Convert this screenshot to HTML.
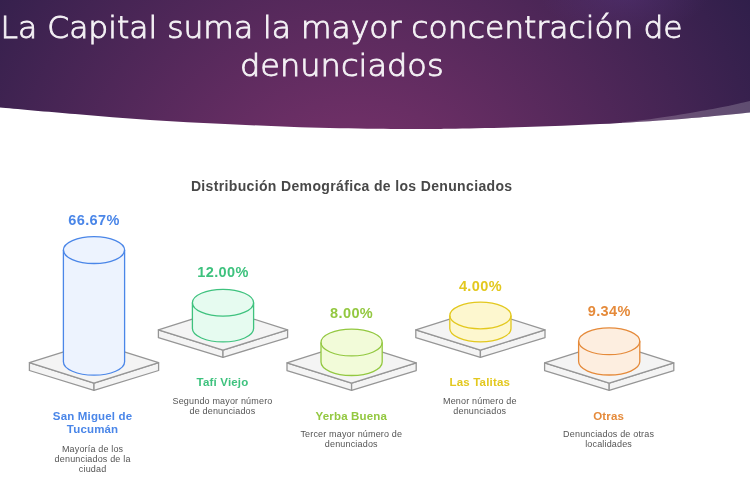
<!DOCTYPE html>
<html lang="es"><head><meta charset="utf-8"><title>La Capital suma la mayor concentración de denunciados</title>
<style>html,body{margin:0;padding:0;background:#fff;}body{width:750px;height:500px;overflow:hidden;}svg{display:block;}</style></head>
<body>
<svg width="750" height="500" viewBox="0 0 750 500">
<defs><radialGradient id="bg" gradientUnits="userSpaceOnUse" cx="0" cy="0" r="1" gradientTransform="translate(354 224) scale(476 456)"><stop offset="0" stop-color="#7f346e"/><stop offset="1" stop-color="#2d1e49"/></radialGradient><radialGradient id="glow"><stop offset="0" stop-color="#633f92" stop-opacity="0.32"/><stop offset="1" stop-color="#633f92" stop-opacity="0"/></radialGradient></defs>
<clipPath id="hc"><path d="M0.00,107.40 C12.50,108.50 50.00,111.90 75.00,114.00 C100.00,116.10 125.00,118.33 150.00,120.00 C175.00,121.67 200.00,122.80 225.00,124.00 C250.00,125.20 275.00,126.40 300.00,127.20 C325.00,128.00 355.00,128.50 375.00,128.80 C395.00,129.10 407.50,129.00 420.00,129.00 C432.50,129.00 432.50,129.13 450.00,128.80 C467.50,128.47 500.00,127.78 525.00,127.00 C550.00,126.22 575.00,125.37 600.00,124.10 C625.00,122.83 656.33,120.70 675.00,119.40 C693.67,118.10 699.50,117.43 712.00,116.30 C724.50,115.17 743.67,113.22 750.00,112.60 L750,0 L0,0 Z"/></clipPath>
<rect width="750" height="500" fill="#fff"/>
<path d="M0.00,107.40 C12.50,108.50 50.00,111.90 75.00,114.00 C100.00,116.10 125.00,118.33 150.00,120.00 C175.00,121.67 200.00,122.80 225.00,124.00 C250.00,125.20 275.00,126.40 300.00,127.20 C325.00,128.00 355.00,128.50 375.00,128.80 C395.00,129.10 407.50,129.00 420.00,129.00 C432.50,129.00 432.50,129.13 450.00,128.80 C467.50,128.47 500.00,127.78 525.00,127.00 C550.00,126.22 575.00,125.37 600.00,124.10 C625.00,122.83 656.33,120.70 675.00,119.40 C693.67,118.10 699.50,117.43 712.00,116.30 C724.50,115.17 743.67,113.22 750.00,112.60 L750,0 L0,0 Z" fill="url(#bg)"/>
<ellipse cx="624" cy="-8" rx="85" ry="44" fill="url(#glow)"/>
<path d="M622.00,122.30 C626.67,121.78 638.67,120.75 650.00,119.20 C661.33,117.65 678.33,114.93 690.00,113.00 C701.67,111.07 710.00,109.60 720.00,107.60 C730.00,105.60 745.00,102.10 750.00,101.00 L750,112.6 L750,125 L622,125 Z" fill="#fff" fill-opacity="0.2" clip-path="url(#hc)"/>
<g font-family="'DejaVu Sans Light','DejaVu Sans','Liberation Sans',sans-serif" font-weight="200" font-size="29.8" fill="#f4f1f5" text-anchor="middle" stroke="#f4f1f5" stroke-width="0.85">
<text id="t1" transform="translate(341.6 38.4) scale(1.053 1)" x="0" y="0">La Capital suma la mayor concentración de</text>
<text id="t2" transform="translate(341.8 76) scale(1.075 1)" x="0" y="0">denunciados</text>
</g>
<text id="ct" x="351.7" y="191.3" font-family="'Liberation Sans',sans-serif" font-weight="700" font-size="14" letter-spacing="0.35" fill="#484848" text-anchor="middle">Distribución Demográfica de los Denunciados</text>
<path d="M29.4,362.7 L94.0,383.1 L94.0,390.3 L29.4,370.5 Z" fill="#f4f4f4" stroke="#969696" stroke-width="1.3" stroke-linejoin="round"/><path d="M158.6,362.7 L94.0,383.1 L94.0,390.3 L158.6,370.5 Z" fill="#f4f4f4" stroke="#969696" stroke-width="1.3" stroke-linejoin="round"/><path d="M29.4,362.7 L94.0,342.3 L158.6,362.7 L94.0,383.1 Z" fill="#f4f4f4" stroke="#969696" stroke-width="1.3" stroke-linejoin="round"/>
<path d="M63.4,250.1 L63.4,361.8 A30.6,13.4 0 0 0 124.6,361.8 L124.6,250.1 A30.6,13.4 0 0 0 63.4,250.1 Z" fill="#edf3fe" stroke="#4a86e8" stroke-width="1.3"/><path d="M63.4,250.1 A30.6,13.4 0 0 0 124.6,250.1" fill="none" stroke="#4a86e8" stroke-width="1.3"/>
<text id="p0" x="94.0" y="225.1" font-family="'Liberation Sans',sans-serif" font-weight="700" font-size="14.5" letter-spacing="0.38" fill="#4a86e8" text-anchor="middle">66.67%</text>
<text id="n0_0" x="92.6" y="420.0" font-family="'Liberation Sans',sans-serif" font-weight="700" font-size="11.5" letter-spacing="0.17" fill="#4a86e8" text-anchor="middle">San Miguel de</text>
<text id="n0_1" x="92.6" y="433.0" font-family="'Liberation Sans',sans-serif" font-weight="700" font-size="11.5" letter-spacing="0.17" fill="#4a86e8" text-anchor="middle">Tucumán</text>
<text id="d0_0" x="92.6" y="452.0" font-family="'Liberation Sans',sans-serif" font-size="9" letter-spacing="0.17" fill="#555" text-anchor="middle">Mayoría de los</text>
<text id="d0_1" x="92.6" y="461.9" font-family="'Liberation Sans',sans-serif" font-size="9" letter-spacing="0.17" fill="#555" text-anchor="middle">denunciados de la</text>
<text id="d0_2" x="92.6" y="471.7" font-family="'Liberation Sans',sans-serif" font-size="9" letter-spacing="0.17" fill="#555" text-anchor="middle">ciudad</text>
<path d="M158.4,329.8 L223.0,350.2 L223.0,357.4 L158.4,337.6 Z" fill="#f4f4f4" stroke="#969696" stroke-width="1.3" stroke-linejoin="round"/><path d="M287.6,329.8 L223.0,350.2 L223.0,357.4 L287.6,337.6 Z" fill="#f4f4f4" stroke="#969696" stroke-width="1.3" stroke-linejoin="round"/><path d="M158.4,329.8 L223.0,309.4 L287.6,329.8 L223.0,350.2 Z" fill="#f4f4f4" stroke="#969696" stroke-width="1.3" stroke-linejoin="round"/>
<path d="M192.4,302.7 L192.4,328.5 A30.6,13.4 0 0 0 253.6,328.5 L253.6,302.7 A30.6,13.4 0 0 0 192.4,302.7 Z" fill="#e6fbf0" stroke="#3ec27e" stroke-width="1.3"/><path d="M192.4,302.7 A30.6,13.4 0 0 0 253.6,302.7" fill="none" stroke="#3ec27e" stroke-width="1.3"/>
<text id="p1" x="223.0" y="277.4" font-family="'Liberation Sans',sans-serif" font-weight="700" font-size="14.5" letter-spacing="0.38" fill="#3ec27e" text-anchor="middle">12.00%</text>
<text id="n1_0" x="222.5" y="386.3" font-family="'Liberation Sans',sans-serif" font-weight="700" font-size="11.5" letter-spacing="0.17" fill="#3ec27e" text-anchor="middle">Tafí Viejo</text>
<text id="d1_0" x="222.5" y="403.6" font-family="'Liberation Sans',sans-serif" font-size="9" letter-spacing="0.17" fill="#555" text-anchor="middle">Segundo mayor número</text>
<text id="d1_1" x="222.5" y="413.5" font-family="'Liberation Sans',sans-serif" font-size="9" letter-spacing="0.17" fill="#555" text-anchor="middle">de denunciados</text>
<path d="M287.0,362.8 L351.6,383.2 L351.6,390.4 L287.0,370.6 Z" fill="#f4f4f4" stroke="#969696" stroke-width="1.3" stroke-linejoin="round"/><path d="M416.2,362.8 L351.6,383.2 L351.6,390.4 L416.2,370.6 Z" fill="#f4f4f4" stroke="#969696" stroke-width="1.3" stroke-linejoin="round"/><path d="M287.0,362.8 L351.6,342.4 L416.2,362.8 L351.6,383.2 Z" fill="#f4f4f4" stroke="#969696" stroke-width="1.3" stroke-linejoin="round"/>
<path d="M321.0,342.5 L321.0,362.1 A30.6,13.4 0 0 0 382.2,362.1 L382.2,342.5 A30.6,13.4 0 0 0 321.0,342.5 Z" fill="#f2fbd9" stroke="#93c840" stroke-width="1.3"/><path d="M321.0,342.5 A30.6,13.4 0 0 0 382.2,342.5" fill="none" stroke="#93c840" stroke-width="1.3"/>
<text id="p2" x="351.6" y="317.7" font-family="'Liberation Sans',sans-serif" font-weight="700" font-size="14.5" letter-spacing="0.38" fill="#93c840" text-anchor="middle">8.00%</text>
<text id="n2_0" x="351.3" y="420.0" font-family="'Liberation Sans',sans-serif" font-weight="700" font-size="11.5" letter-spacing="0.17" fill="#93c840" text-anchor="middle">Yerba Buena</text>
<text id="d2_0" x="351.3" y="437.2" font-family="'Liberation Sans',sans-serif" font-size="9" letter-spacing="0.17" fill="#555" text-anchor="middle">Tercer mayor número de</text>
<text id="d2_1" x="351.3" y="447.1" font-family="'Liberation Sans',sans-serif" font-size="9" letter-spacing="0.17" fill="#555" text-anchor="middle">denunciados</text>
<path d="M415.8,329.8 L480.4,350.2 L480.4,357.4 L415.8,337.6 Z" fill="#f4f4f4" stroke="#969696" stroke-width="1.3" stroke-linejoin="round"/><path d="M545.0,329.8 L480.4,350.2 L480.4,357.4 L545.0,337.6 Z" fill="#f4f4f4" stroke="#969696" stroke-width="1.3" stroke-linejoin="round"/><path d="M415.8,329.8 L480.4,309.4 L545.0,329.8 L480.4,350.2 Z" fill="#f4f4f4" stroke="#969696" stroke-width="1.3" stroke-linejoin="round"/>
<path d="M449.8,315.5 L449.8,328.4 A30.6,13.4 0 0 0 511.0,328.4 L511.0,315.5 A30.6,13.4 0 0 0 449.8,315.5 Z" fill="#fdf7cf" stroke="#e3c81e" stroke-width="1.3"/><path d="M449.8,315.5 A30.6,13.4 0 0 0 511.0,315.5" fill="none" stroke="#e3c81e" stroke-width="1.3"/>
<text id="p3" x="480.4" y="290.5" font-family="'Liberation Sans',sans-serif" font-weight="700" font-size="14.5" letter-spacing="0.38" fill="#e3c81e" text-anchor="middle">4.00%</text>
<text id="n3_0" x="479.8" y="386.3" font-family="'Liberation Sans',sans-serif" font-weight="700" font-size="11.5" letter-spacing="0.17" fill="#e3c81e" text-anchor="middle">Las Talitas</text>
<text id="d3_0" x="479.8" y="403.6" font-family="'Liberation Sans',sans-serif" font-size="9" letter-spacing="0.17" fill="#555" text-anchor="middle">Menor número de</text>
<text id="d3_1" x="479.8" y="413.5" font-family="'Liberation Sans',sans-serif" font-size="9" letter-spacing="0.17" fill="#555" text-anchor="middle">denunciados</text>
<path d="M544.6,362.8 L609.2,383.2 L609.2,390.4 L544.6,370.6 Z" fill="#f4f4f4" stroke="#969696" stroke-width="1.3" stroke-linejoin="round"/><path d="M673.8,362.8 L609.2,383.2 L609.2,390.4 L673.8,370.6 Z" fill="#f4f4f4" stroke="#969696" stroke-width="1.3" stroke-linejoin="round"/><path d="M544.6,362.8 L609.2,342.4 L673.8,362.8 L609.2,383.2 Z" fill="#f4f4f4" stroke="#969696" stroke-width="1.3" stroke-linejoin="round"/>
<path d="M578.6,341.3 L578.6,361.6 A30.6,13.4 0 0 0 639.8,361.6 L639.8,341.3 A30.6,13.4 0 0 0 578.6,341.3 Z" fill="#fdeee0" stroke="#e58a3a" stroke-width="1.3"/><path d="M578.6,341.3 A30.6,13.4 0 0 0 639.8,341.3" fill="none" stroke="#e58a3a" stroke-width="1.3"/>
<text id="p4" x="609.2" y="315.5" font-family="'Liberation Sans',sans-serif" font-weight="700" font-size="14.5" letter-spacing="0.38" fill="#e58a3a" text-anchor="middle">9.34%</text>
<text id="n4_0" x="608.6" y="420.0" font-family="'Liberation Sans',sans-serif" font-weight="700" font-size="11.5" letter-spacing="0.17" fill="#e58a3a" text-anchor="middle">Otras</text>
<text id="d4_0" x="608.6" y="437.2" font-family="'Liberation Sans',sans-serif" font-size="9" letter-spacing="0.17" fill="#555" text-anchor="middle">Denunciados de otras</text>
<text id="d4_1" x="608.6" y="447.1" font-family="'Liberation Sans',sans-serif" font-size="9" letter-spacing="0.17" fill="#555" text-anchor="middle">localidades</text>
</svg>
</body></html>
